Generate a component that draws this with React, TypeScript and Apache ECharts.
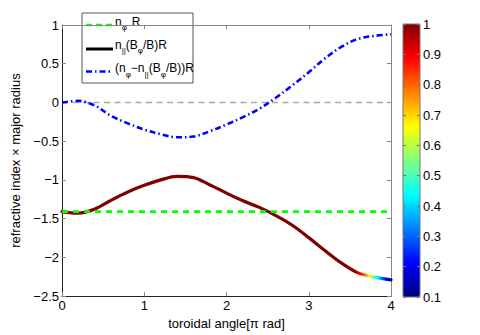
import React, { useEffect, useRef } from 'react';
import * as echarts from 'echarts';

const FONT = '"Liberation Sans", Arial, Helvetica, sans-serif';

// toroidal angle [pi rad]
const xs = [0, 0.2, 0.4, 0.6, 0.8, 1.0, 1.2, 1.4, 1.6, 1.8, 2.0, 2.2, 2.4, 2.6, 2.8, 3.0, 3.2, 3.4, 3.6, 3.8, 4.0];
// n_phi R (constant)
const nPhiR = -1.41;
// n_par (B_phi/B) R
const nParR = [-1.41, -1.43, -1.375, -1.26, -1.155, -1.07, -1.0, -0.955, -0.97, -1.065, -1.17, -1.27, -1.355, -1.46, -1.585, -1.745, -1.915, -2.075, -2.2, -2.255, -2.29];
// (n_phi - n_par (B_phi/B)) R
const diffR = [0.0, 0.02, -0.04, -0.175, -0.27, -0.35, -0.41, -0.45, -0.44, -0.37, -0.285, -0.19, -0.08, 0.06, 0.22, 0.39, 0.57, 0.72, 0.82, 0.86, 0.88];
// colour variable along the n_par curve
const colorX = [0, 3.55, 3.62, 3.68, 3.74, 3.8, 3.86, 3.92, 3.97, 4.0];
const colorVal = [1, 1, 0.9, 0.8, 0.65, 0.5, 0.38, 0.25, 0.15, 0.1];
const zeroLine = [0, 0];
const cbarMin = 0.1;
const cbarMax = 1;

function jet(c: number): string {
  const t = (c - cbarMin) / (cbarMax - cbarMin);
  const f = (v: number) => Math.max(0, Math.min(1, v));
  const r = f(1.5 - Math.abs(4 * t - 3));
  const g = f(1.5 - Math.abs(4 * t - 2));
  const b = f(1.5 - Math.abs(4 * t - 1));
  return `rgb(${Math.round(r * 255)},${Math.round(g * 255)},${Math.round(b * 255)})`;
}

const jetColors: string[] = [];
for (let k = 0; k <= 8; k++) jetColors.push(jet(cbarMin + ((cbarMax - cbarMin) * k) / 8));

function buildStops() {
  const x0 = xs[0];
  const x1 = xs[xs.length - 1];
  const stops: { offset: number; color: string }[] = [];
  for (let i = 0; i < colorX.length - 1; i++) {
    const n = 6;
    for (let k = 0; k < n; k++) {
      const fr = k / n;
      const x = colorX[i] + (colorX[i + 1] - colorX[i]) * fr;
      const c = colorVal[i] + (colorVal[i + 1] - colorVal[i]) * fr;
      stops.push({ offset: (x - x0) / (x1 - x0), color: jet(c) });
    }
  }
  const last = colorX.length - 1;
  stops.push({ offset: (colorX[last] - x0) / (x1 - x0), color: jet(colorVal[last]) });
  return stops;
}

const rich = {
  m: { fontSize: 12, fontFamily: FONT, color: '#000', lineHeight: 14, verticalAlign: 'top' },
  s: { fontSize: 8, fontFamily: FONT, color: '#000', padding: [8, 0, 0, 0], verticalAlign: 'top' },
  g: { fontSize: 12, fontFamily: FONT, color: '#000', lineHeight: 14, verticalAlign: 'top', padding: [0, 0, 0, 5] },
};

export default function App() {
  const ref = useRef<HTMLDivElement>(null);
  useEffect(() => {
    if (!ref.current) return;
    const chart = echarts.init(ref.current, undefined, { renderer: 'svg' });
    const axisText = { color: '#000', fontSize: 13, fontFamily: FONT };
    const option: any = {
      animation: false,
      backgroundColor: '#fff',
      grid: [
        { left: 62, top: 25, width: 329, height: 272, show: false },
        { left: 403, top: 24, width: 17, height: 273, show: true, borderColor: '#777', borderWidth: 1, backgroundColor: 'transparent', z: 10 },
      ],
      xAxis: [
        {
          gridIndex: 0, type: 'value', min: 0, max: 4, interval: 1,
          axisLine: { show: true, onZero: false, lineStyle: { color: '#222', width: 1 } },
          axisTick: { show: true, inside: true, length: 4, lineStyle: { color: '#888' } },
          axisLabel: { ...axisText, margin: 3 },
          splitLine: { show: false },
          name: 'toroidal angle[π rad]', nameLocation: 'middle', nameGap: 11,
          nameTextStyle: axisText,
        },
        {
          gridIndex: 0, type: 'value', min: 0, max: 4, interval: 1, position: 'top',
          axisLine: { show: true, onZero: false, lineStyle: { color: '#888', width: 1 } },
          axisTick: { show: true, inside: true, length: 4, lineStyle: { color: '#888' } },
          axisLabel: { show: false }, splitLine: { show: false },
        },
        { gridIndex: 1, type: 'value', min: 0, max: 1, show: false },
      ],
      yAxis: [
        {
          gridIndex: 0, type: 'value', min: -2.5, max: 1, interval: 0.5,
          axisLine: { show: true, onZero: false, lineStyle: { color: '#222', width: 1 } },
          axisTick: { show: true, inside: true, length: 4, lineStyle: { color: '#888' } },
          axisLabel: { ...axisText, margin: 3, formatter: (v: number) => String(v).replace('-', '−') },
          splitLine: { show: false },
          name: 'refractive index × major radius', nameLocation: 'middle', nameGap: 28,
          nameTextStyle: axisText,
        },
        {
          gridIndex: 0, type: 'value', min: -2.5, max: 1, interval: 0.5, position: 'right',
          axisLine: { show: true, onZero: false, lineStyle: { color: '#888', width: 1 } },
          axisTick: { show: true, inside: true, length: 4, lineStyle: { color: '#888' } },
          axisLabel: { show: false }, splitLine: { show: false },
        },
        {
          gridIndex: 1, type: 'value', min: cbarMin, max: cbarMax, interval: 0.1, position: 'right',
          axisLine: { show: false, onZero: false },
          axisTick: { show: true, inside: true, length: 3, lineStyle: { color: '#777' } },
          axisLabel: { ...axisText, margin: 3, formatter: (v: number) => String(Math.round(v * 10) / 10) },
          splitLine: { show: false }, z: 10,
        },
        {
          gridIndex: 1, type: 'value', min: cbarMin, max: cbarMax, interval: 0.1, position: 'left',
          axisLine: { show: false, onZero: false },
          axisTick: { show: true, inside: true, length: 3, lineStyle: { color: '#777' } },
          axisLabel: { show: false }, splitLine: { show: false }, z: 10,
        },
      ],
      visualMap: {
        type: 'continuous', min: cbarMin, max: cbarMax, left: 403, top: 24,
        itemWidth: 17, itemHeight: 273, calculable: false, padding: 0,
        inRange: { color: jetColors }, seriesIndex: 4, hoverLink: false,
        textStyle: { fontSize: 0 },
      },
      series: [
        {
          type: 'line', xAxisIndex: 0, yAxisIndex: 0, symbol: 'none', silent: true,
          data: [[xs[0], zeroLine[0]], [xs[xs.length - 1], zeroLine[1]]],
          lineStyle: { color: '#a8a8a8', width: 1.5, type: [6, 4.5] }, z: 1,
        },
        {
          type: 'line', xAxisIndex: 0, yAxisIndex: 0, symbol: 'none', silent: true, smooth: 0.35,
          data: xs.map((x, i) => [x, nParR[i]]),
          lineStyle: {
            width: 3.2, cap: 'round',
            color: new echarts.graphic.LinearGradient(0, 0, 1, 0, buildStops()),
          },
          z: 2,
        },
        {
          type: 'line', xAxisIndex: 0, yAxisIndex: 0, symbol: 'none', silent: true,
          data: [[xs[0], nPhiR], [xs[xs.length - 1], nPhiR]],
          lineStyle: { color: '#00ff00', width: 2.6, type: [6, 5] }, z: 3,
        },
        {
          type: 'line', xAxisIndex: 0, yAxisIndex: 0, symbol: 'none', silent: true, smooth: 0.35,
          data: xs.map((x, i) => [x, diffR[i]]),
          lineStyle: { color: '#0000ff', width: 2.6, type: [6, 3, 1.5, 3] }, z: 3,
        },
        { type: 'scatter', xAxisIndex: 2, yAxisIndex: 2, data: [], silent: true },
      ],
      graphic: [
        {
          type: 'group', z: 100,
          children: [
            { type: 'rect', shape: { x: 82, y: 13, width: 111, height: 70 }, style: { fill: '#fff', stroke: '#555', lineWidth: 1 } },
            { type: 'line', shape: { x1: 86, y1: 25, x2: 112, y2: 25 }, style: { stroke: '#00ff00', lineWidth: 2.6, lineDash: [6, 4] } },
            { type: 'line', shape: { x1: 86, y1: 49, x2: 113, y2: 49 }, style: { stroke: '#000', lineWidth: 3 } },
            { type: 'line', shape: { x1: 86, y1: 71.5, x2: 113, y2: 71.5 }, style: { stroke: '#0000ff', lineWidth: 2.6, lineDash: [6, 3, 1.5, 3] } },
            { type: 'text', x: 115, y: 15.5, style: { text: '{m|n}{s|φ}{g|R}', rich, verticalAlign: 'top' } },
            { type: 'text', x: 115, y: 38.5, style: { text: '{m|n}{s|||}{m|(B}{s|φ}{m|/B)R}', rich, verticalAlign: 'top' } },
            { type: 'text', x: 115, y: 62, style: { text: '{m|(n}{s|φ}{m|−n}{s|||}{m|(B}{s|φ}{m|/B))R}', rich, verticalAlign: 'top' } },
          ],
        },
      ],
    };
    chart.setOption(option);
    return () => chart.dispose();
  }, []);
  return <div ref={ref} style={{ position: 'fixed', left: 0, top: 0, width: 480, height: 335, background: '#fff' }} />;
}
